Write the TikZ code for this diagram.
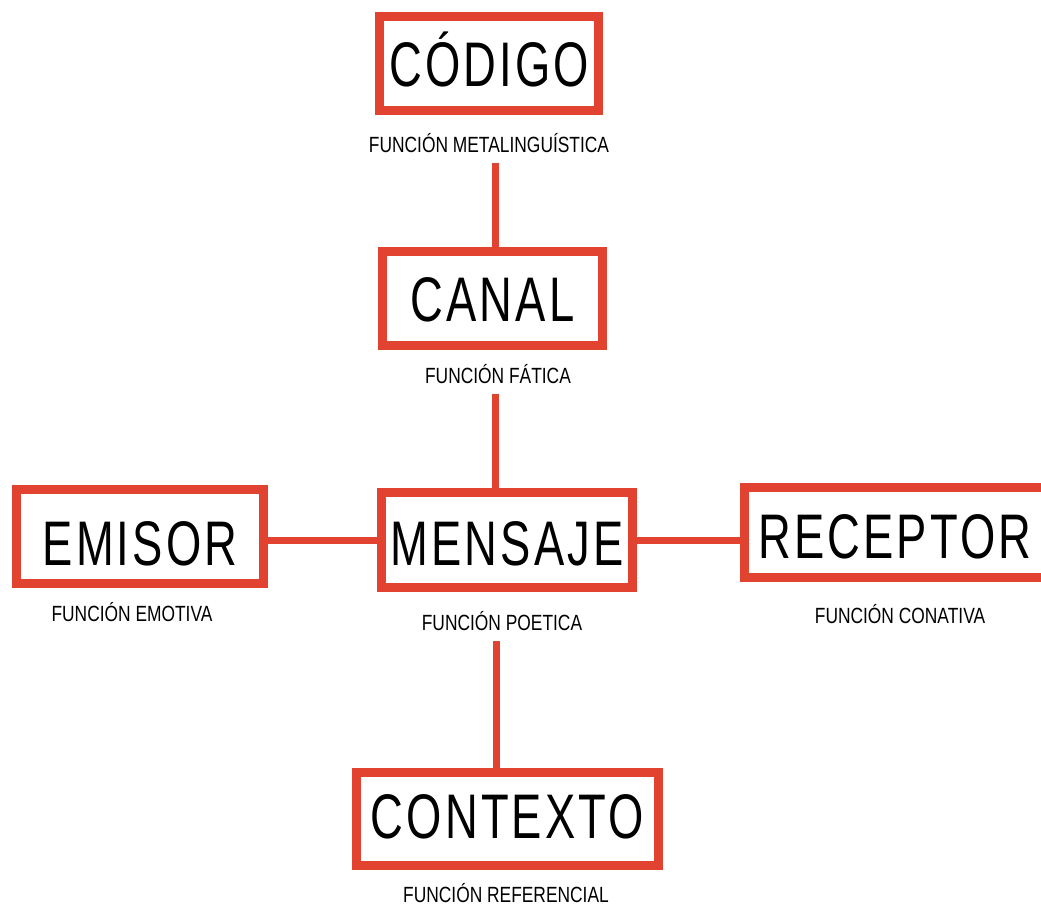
\documentclass[tikz,border=0pt]{standalone}
\usepackage{fontspec}
\setmainfont{Liberation Sans}[FakeStretch=0.79]
\newfontfamily\titlefont{Liberation Sans}[FakeStretch=0.72, LetterSpace=5]
\definecolor{boxred}{RGB}{226,67,48}
\tikzset{
  titlebox/.style={draw=boxred, line width=9pt, rectangle, inner sep=0pt,
    text height=#1, text depth=0pt, font=\titlefont\fontsize{63}{63}\selectfont},
  titlebox/.default=45pt,
  funclabel/.style={inner xsep=0pt, inner ysep=8pt, text height=16pt, text depth=0pt,
    font=\fontsize{22}{22}\selectfont},
  conn/.style={draw=boxred, line width=7pt}
}
\begin{document}
\begin{tikzpicture}[x=1pt,y=-1pt]
\useasboundingbox (0,0) rectangle (1041,905);
% boxes
\node[titlebox, minimum width=219pt, minimum height=94pt] (codigo) at (489,63.5) {CÓDIGO};
\node[titlebox, minimum width=220pt, minimum height=94pt] (canal) at (492.5,298.5) {CANAL};
\node[titlebox=50pt, minimum width=251pt, minimum height=95pt] (mensaje) at (507,540) {MENSAJE};
\node[titlebox=58pt, minimum width=247pt, minimum height=94pt] (emisor) at (140,536.5) {EMISOR};
\node[titlebox=51pt, minimum width=301pt, minimum height=90pt] (receptor) at (895,532.5) {RECEPTOR};
\node[titlebox=38pt, minimum width=302pt, minimum height=93pt] (contexto) at (507.5,819) {CONTEXTO};
% labels
\node[funclabel] (metaL) at (489,144) {FUNCIÓN METALINGUÍSTICA};
\node[funclabel] (faticaL) at (498,375) {FUNCIÓN FÁTICA};
\node[funclabel] (poeticaL) at (502,622) {FUNCIÓN POETICA};
\node[funclabel] (emotivaL) at (132,613) {FUNCIÓN EMOTIVA};
\node[funclabel] (conativaL) at (900,615) {FUNCIÓN CONATIVA};
\node[funclabel] (referencialL) at (506,894) {FUNCIÓN REFERENCIAL};
% connectors
\draw[conn, shorten <=3pt] ([xshift=6pt]metaL.south) -- ([xshift=6pt]metaL.south |- canal.north);
\draw[conn, shorten <=3pt] ([xshift=-3pt]faticaL.south) -- ([xshift=-3pt]faticaL.south |- mensaje.north);
\draw[conn, shorten <=3pt] ([xshift=-6pt]poeticaL.south) -- ([xshift=-6pt]poeticaL.south |- contexto.north);
\draw[conn] (mensaje.west -| emisor.east) -- (mensaje.west);
\draw[conn] (mensaje.east) -- (mensaje.east -| receptor.west);
\end{tikzpicture}
\end{document}
